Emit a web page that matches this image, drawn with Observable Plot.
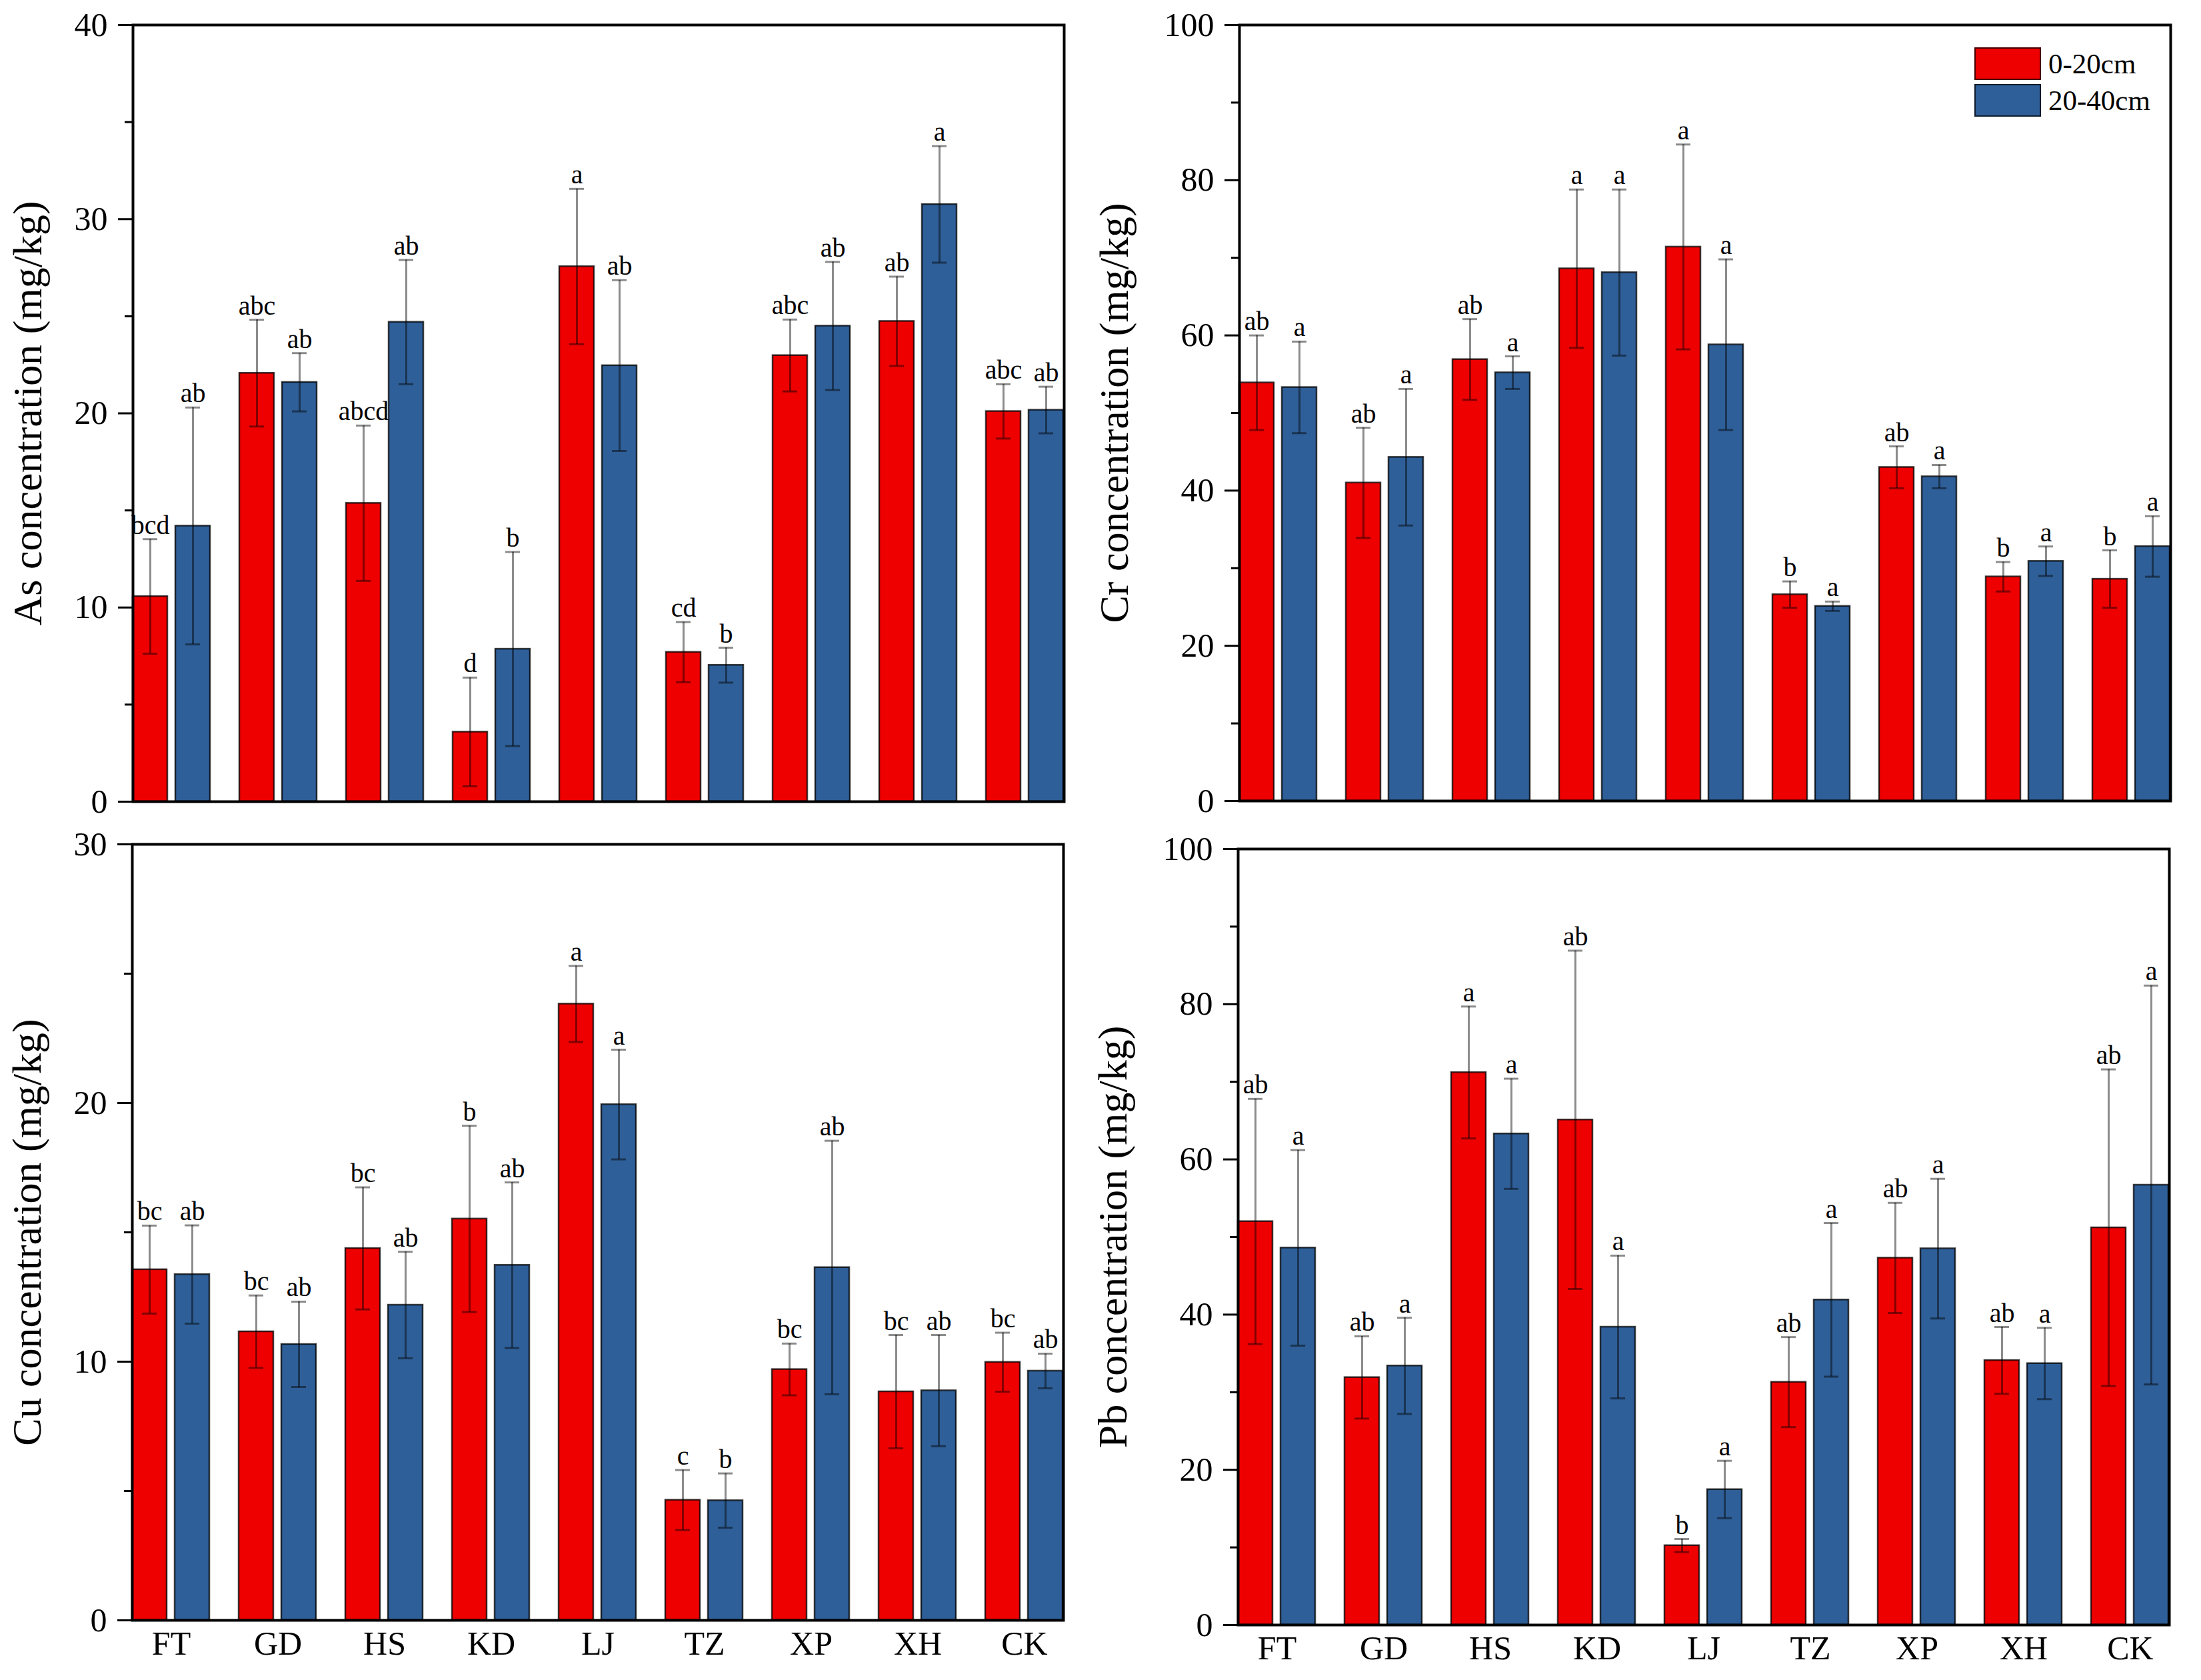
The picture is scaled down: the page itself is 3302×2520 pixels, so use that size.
<!DOCTYPE html>
<html><head><meta charset="utf-8">
<script src="https://cdn.jsdelivr.net/npm/d3@7"></script>
<script src="https://cdn.jsdelivr.net/npm/@observablehq/plot@0.6"></script>
<style>
html,body{margin:0;padding:0;background:#fff;}
#wrap{position:relative;width:3302px;height:2520px;overflow:hidden;background:#fff;}
.panel{position:absolute;}
.panel svg text{font-family:'Liberation Serif','Times New Roman',serif;}
#legend{position:absolute;left:2962px;top:71px;}
.lg-swatch{padding-bottom:6px !important;}
.lg-swatch svg{margin-right:11px !important;outline:2px solid rgba(0,0,0,0.7);outline-offset:-2px;}
</style></head><body><div id="wrap">
<div class="panel" id="pA" style="left:0px;top:0px"></div>
<div class="panel" id="pB" style="left:1650px;top:0px"></div>
<div class="panel" id="pC" style="left:0px;top:1230px"></div>
<div class="panel" id="pD" style="left:1650px;top:1230px"></div>
<div id="legend"></div>
</div>
<script>
const sites = ["FT","GD","HS","KD","LJ","TZ","XP","XH","CK"];
const depths = ["0-20cm","20-40cm"];
const colors = ["#ee0000","#2f5f98"];
const FONT = "'Liberation Serif','Times New Roman',serif";

// As
const asTop = [10.57, 22.07, 15.37, 3.59, 27.56, 7.70, 22.98, 24.74, 20.10];
const asTopSD = [2.95, 2.75, 4.0, 2.8, 4.0, 1.55, 1.85, 2.3, 1.4];
const asTopSig = ["bcd","abc","abcd","d","a","cd","abc","ab","abc"];
const asSub = [14.2, 21.6, 24.7, 7.86, 22.46, 7.03, 24.5, 30.76, 20.17];
const asSubSD = [6.1, 1.5, 3.2, 5.0, 4.4, 0.9, 3.3, 3.0, 1.2];
const asSubSig = ["ab","ab","ab","b","ab","b","ab","a","ab"];
// Cr
const crTop = [53.9, 41.0, 56.9, 68.6, 71.4, 26.6, 43.0, 28.9, 28.6];
const crTopSD = [6.1, 7.1, 5.2, 10.2, 13.2, 1.7, 2.7, 1.9, 3.7];
const crTopSig = ["ab","ab","ab","a","a","b","ab","b","b"];
const crSub = [53.3, 44.3, 55.2, 68.1, 58.8, 25.1, 41.8, 30.9, 32.8];
const crSubSD = [5.9, 8.8, 2.1, 10.7, 11.0, 0.6, 1.5, 1.9, 3.9];
const crSubSig = ["a","a","a","a","a","a","a","a","a"];
// Cu
const cuTop = [13.56, 11.16, 14.38, 15.52, 23.83, 4.65, 9.70, 8.84, 9.98];
const cuTopSD = [1.7, 1.4, 2.36, 3.6, 1.47, 1.16, 1.0, 2.19, 1.14];
const cuTopSig = ["bc","bc","bc","b","a","c","bc","bc","bc"];
const cuSub = [13.37, 10.67, 12.19, 13.73, 19.94, 4.63, 13.64, 8.88, 9.64];
const cuSubSD = [1.9, 1.65, 2.06, 3.2, 2.12, 1.05, 4.9, 2.15, 0.67];
const cuSubSig = ["ab","ab","ab","ab","a","b","ab","ab","ab"];
// Pb
const pbTop = [52.0, 31.9, 71.2, 65.1, 10.24, 31.3, 47.3, 34.1, 51.2];
const pbTopSD = [15.8, 5.3, 8.5, 21.8, 0.84, 5.8, 7.1, 4.3, 20.4];
const pbTopSig = ["ab","ab","a","ab","b","ab","ab","ab","ab"];
const pbSub = [48.6, 33.4, 63.3, 38.4, 17.46, 41.9, 48.5, 33.7, 56.7];
const pbSubSD = [12.6, 6.2, 7.1, 9.2, 3.7, 9.9, 9.0, 4.6, 25.7];
const pbSubSig = ["a","a","a","a","a","a","a","a","a"];

// axis ticks
const asTicks = [0,10,20,30,40], asMinor = [5,15,25,35];
const crTicks = [0,20,40,60,80,100], crMinor = [10,30,50,70,90];
const cuTicks = [0,10,20,30], cuMinor = [5,15,25];
const pbTicks = [0,20,40,60,80,100], pbMinor = [10,30,50,70,90];

function panel(o) {
  const rows = sites.flatMap((s, i) => [
    {site: s, depth: depths[0], mean: o.m0[i], sd: o.s0[i], sig: o.g0[i]},
    {site: s, depth: depths[1], mean: o.m1[i], sd: o.s1[i], sig: o.g1[i]}
  ]);
  const lo = d => d.mean - d.sd, hi = d => d.mean + d.sd;
  const err = {stroke: "black", strokeOpacity: 0.45, strokeWidth: 3};
  return Plot.plot({
    width: o.width, height: o.height,
    marginLeft: o.ml, marginRight: o.mr, marginTop: o.mt, marginBottom: o.mb,
    style: {fontFamily: FONT, background: "white", overflow: "visible", color: "black"},
    fx: {domain: sites, paddingInner: 0.268, paddingOuter: 0.131, label: null, axis: null},
    x: {domain: depths, paddingInner: 0.185, paddingOuter: 0, axis: null},
    y: {domain: [0, o.yMax]},
    color: {domain: depths, range: colors},
    marks: [
      Plot.barY(rows, {fx: "site", x: "depth", y: "mean", fill: "depth", stroke: "black", strokeOpacity: 0.75, strokeWidth: 2.5}),
      Plot.ruleX(rows, {fx: "site", x: "depth", y1: lo, y2: hi, ...err}),
      Plot.tickY(rows, {fx: "site", x: "depth", y: hi, insetLeft: 15, insetRight: 15, ...err}),
      Plot.tickY(rows, {fx: "site", x: "depth", y: lo, insetLeft: 15, insetRight: 15, ...err}),
      Plot.text(rows, {fx: "site", x: "depth", y: hi, text: "sig", dy: -8, lineAnchor: "bottom", fontSize: 40, fontFamily: FONT, fill: "black"}),
      Plot.axisY({ticks: o.ticks, tickSize: 22, tickPadding: 16, strokeWidth: 3, fontSize: 50, fontFamily: FONT, label: null}),
      Plot.axisY({ticks: o.minor, tickSize: 12, strokeWidth: 3, text: null, label: o.label, labelArrow: "none", labelAnchor: "center", labelOffset: o.lo, fontSize: 62, fontFamily: FONT}),
      o.showX ? Plot.axisFx({anchor: "bottom", tickSize: 0, tickPadding: 16, fontSize: 50, fontFamily: FONT, label: null}) : null,
      Plot.frame({facet: "super", stroke: "black", strokeWidth: 4})
    ]
  });
}

document.getElementById("pA").append(panel({
  m0: asTop, s0: asTopSD, g0: asTopSig, m1: asSub, s1: asSubSD, g1: asSubSig,
  yMax: 40, ticks: asTicks, minor: asMinor, label: "As concentration (mg/kg)",
  width: 1650, height: 1230, ml: 176, mr: 31, mt: 37, mb: 28, lo: 182, showX: false
}));
document.getElementById("pB").append(panel({
  m0: crTop, s0: crTopSD, g0: crTopSig, m1: crSub, s1: crSubSD, g1: crSubSig,
  yMax: 100, ticks: crTicks, minor: crMinor, label: "Cr concentration (mg/kg)",
  width: 1652, height: 1230, ml: 185, mr: 22, mt: 37, mb: 29, lo: 212, showX: false
}));
document.getElementById("pC").append(panel({
  m0: cuTop, s0: cuTopSD, g0: cuTopSig, m1: cuSub, s1: cuSubSD, g1: cuSubSig,
  yMax: 30, ticks: cuTicks, minor: cuMinor, label: "Cu concentration (mg/kg)",
  width: 1650, height: 1290, ml: 175, mr: 31, mt: 36, mb: 90, lo: 182, showX: true
}));
document.getElementById("pD").append(panel({
  m0: pbTop, s0: pbTopSD, g0: pbTopSig, m1: pbSub, s1: pbSubSD, g1: pbSubSig,
  yMax: 100, ticks: pbTicks, minor: pbMinor, label: "Pb concentration (mg/kg)",
  width: 1652, height: 1290, ml: 184, mr: 25, mt: 43, mb: 83, lo: 212, showX: true
}));

document.getElementById("legend").append(Plot.legend({
  color: {domain: depths, range: colors},
  legend: "swatches", columns: 1, swatchWidth: 100, swatchHeight: 49,
  className: "lg",
  style: {fontSize: "43px", fontFamily: FONT, color: "black"}
}));
</script>
</body></html>
